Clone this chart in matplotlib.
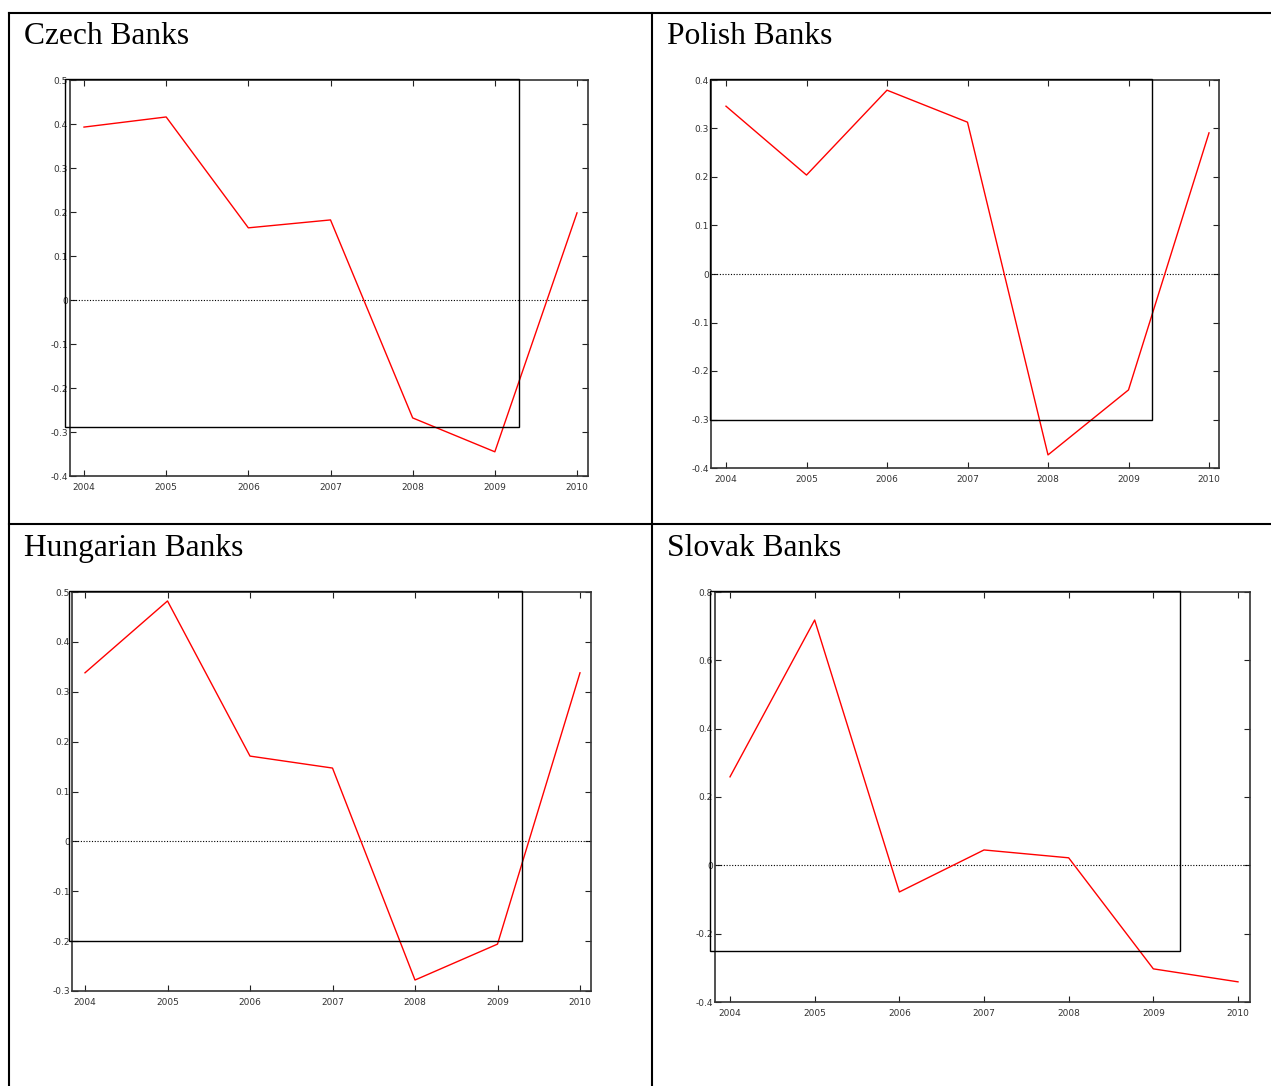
import matplotlib
matplotlib.use("Agg")
import matplotlib.pyplot as plt
from matplotlib.lines import Line2D
from matplotlib.patches import Rectangle
from matplotlib.ticker import FuncFormatter, MultipleLocator

W, H = 1271, 1086

years = [2004, 2005, 2006, 2007, 2008, 2009, 2010]
year_labels = ["2004", "2005", "2006", "2007", "2008", "2009", "2010"]

titles = ["Czech Banks", "Polish Banks", "Hungarian Banks", "Slovak Banks"]

czech = [0.393, 0.416, 0.164, 0.182, -0.268, -0.345, 0.198]
polish = [0.346, 0.204, 0.379, 0.313, -0.373, -0.239, 0.291]
hungarian = [0.338, 0.482, 0.171, 0.147, -0.278, -0.206, 0.338]
slovak = [0.259, 0.718, -0.078, 0.045, 0.022, -0.303, -0.341]

y_limits = [(-0.4, 0.5), (-0.4, 0.4), (-0.3, 0.5), (-0.4, 0.8)]
y_steps = [0.1, 0.1, 0.1, 0.2]
# lower edge and right edge of the overlaid frame, in data units
box_bottom = [-0.289, -0.3, -0.2, -0.25]
box_right = [2009.30, 2009.29, 2009.30, 2009.31]

series = [czech, polish, hungarian, slovak]

# axes boxes in pixels: left, top, right, bottom
ax_px = [(70, 80, 588, 476), (711, 80, 1219, 468),
         (72, 592, 591, 991), (715, 592, 1250, 1002)]
# how far the overlaid frame sticks out left of the axes, in pixels
box_shift = [5, 1, 3, 5]
# x positions in pixels of 2004 and 2010 ticks
tick_px = [(84, 577), (726, 1209), (85, 580), (730, 1238)]
# title anchor (left, baseline) in pixels
title_px = [(24, 44), (667, 44), (24, 556), (667, 556)]

fig = plt.figure(figsize=(W / 100, H / 100), dpi=100)


def fx(x):
    return x / W


def fy(y):
    return 1 - y / H


# table rules
rule_kw = dict(color="black", lw=1.5, transform=fig.transFigure)
fig.add_artist(Line2D([fx(9), fx(9)], [fy(13), fy(H)], **rule_kw))
fig.add_artist(Line2D([fx(9), fx(W)], [fy(13), fy(13)], **rule_kw))
fig.add_artist(Line2D([fx(652), fx(652)], [fy(13), fy(H)], **rule_kw))
fig.add_artist(Line2D([fx(9), fx(W)], [fy(524), fy(524)], **rule_kw))

fmt = FuncFormatter(lambda v, p: f"{round(v, 6):g}" if abs(v) > 1e-9 else "0")

for i in range(4):
    l, t, r, b = ax_px[i]
    ax = fig.add_axes([fx(l), fy(b), (r - l) / W, (b - t) / H])
    p0, p1 = tick_px[i]
    per = (p1 - p0) / 6
    ax.set_xlim(2004 - (p0 - l) / per, 2010 + (r - p1) / per)
    ax.set_ylim(*y_limits[i])

    ax.axhline(0, color="black", lw=0.8, ls=(0, (1, 1.5)))
    ax.plot(years, series[i], color="#ff0000", lw=1.0)

    # overlaid frame
    x0 = 2004 - (p0 - (l - box_shift[i])) / per
    ytop = y_limits[i][1] + (y_limits[i][1] - y_limits[i][0]) / (b - t)
    ax.add_patch(Rectangle((x0, box_bottom[i]), box_right[i] - x0, ytop - box_bottom[i],
                           fill=False, edgecolor="black", lw=1.0, clip_on=False, zorder=5))

    ax.set_xticks(years)
    ax.set_xticklabels(year_labels)
    ax.yaxis.set_major_locator(MultipleLocator(y_steps[i]))
    ax.yaxis.set_major_formatter(fmt)
    ax.tick_params(direction="in", length=4, width=0.8, labelsize=6.5,
                   top=True, right=True, labelcolor="#333333", color="#222222")
    ax.tick_params(axis="y", pad=1.5)
    ax.tick_params(axis="x", pad=5)
    for s in ax.spines.values():
        s.set_color("#333333")
        s.set_linewidth(1.2)

    tx, ty = title_px[i]
    fig.text(fx(tx), fy(ty), titles[i], family="Liberation Serif", fontsize=22.7,
             ha="left", va="baseline", color="black")

fig.savefig("out.png", dpi=100)
